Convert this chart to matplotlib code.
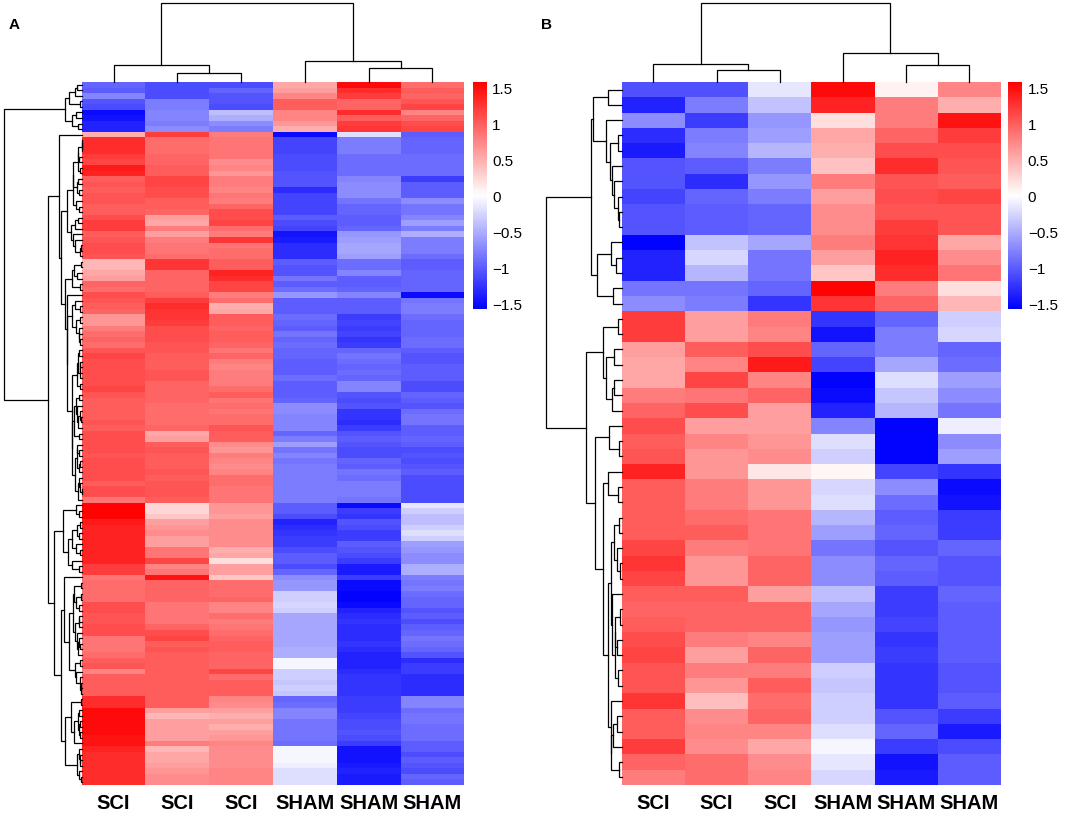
import numpy as np
import matplotlib
matplotlib.use("Agg")
import matplotlib.pyplot as plt
from matplotlib.colors import LinearSegmentedColormap, Normalize
from matplotlib.colorbar import ColorbarBase

plt.rcParams['font.family'] = ['Liberation Sans', 'DejaVu Sans']

samples = ["SCI", "SCI", "SCI", "SHAM", "SHAM", "SHAM"]

# panel A: 127 genes, scaled expression (row z-score), rows as shown
a_sci1 = [-0.95, -1.0, -0.75, -1.05, -1.1, -1.5, -1.45, -1.35, -1.35,
          0.5, 1.3, 1.3, 1.3, 1.2, 1.15, 1.4, 1.35, 1.0, 1.05, 1.0, 1.05,
          1.05, 1.0, 1.0, 1.1, 1.2, 1.2, 1.0, 1.05, 1.1, 1.1, 1.05,
          0.45, 0.45, 0.55, 0.6, 0.95, 0.9, 1.1, 1.05, 1.0, 0.95,
          0.65, 0.65, 0.8, 0.9, 0.95, 0.9, 1.05, 1.15, 1.1, 1.1, 1.1, 1.1,
          1.1, 1.15, 1.05, 1.0, 1.0, 1.0, 1.0, 1.05, 1.0, 1.1, 1.1,
          1.1, 1.1, 1.05, 1.1, 1.1, 1.1, 1.1, 1.0, 1.1, 1.1, 0.85,
          1.55, 1.55, 1.55, 1.4, 1.35, 1.35, 1.35, 1.35, 1.35, 1.35, 1.35, 1.2,
          1.2, 0.85, 0.9, 0.9, 0.9, 0.9, 1.1, 1.1, 1.05, 1.05, 1.1,
          1.1, 0.85, 0.85, 0.85, 0.9, 1.0, 1.05, 0.75, 1.0, 1.0, 1.0, 1.0,
          1.3, 1.3, 1.5, 1.5, 1.5, 1.5, 1.5, 1.45, 1.45, 1.35, 1.3,
          1.3, 1.3, 1.3, 1.3, 1.3]
a_sci2 = [-1.1, -1.1, -1.1, -0.8, -0.8, -0.75, -0.75, -0.8, -0.7,
          1.2, 0.9, 0.9, 0.9, 0.95, 0.95, 1.0, 1.0, 1.15, 1.15, 1.1, 1.1,
          1.0, 1.0, 0.95, 0.6, 0.55, 0.8, 0.6, 0.8, 0.85, 0.85, 0.9,
          1.25, 1.25, 0.95, 0.95, 0.95, 0.95, 1.0, 1.2, 1.3, 1.25,
          1.25, 1.2, 1.1, 1.1, 1.1, 1.05, 1.05, 1.0, 1.0, 1.0, 1.05, 1.05,
          0.95, 0.95, 0.95, 0.95, 0.9, 0.9, 0.9, 0.9, 0.95, 0.55, 0.6,
          1.0, 1.05, 1.0, 1.0, 1.0, 1.05, 1.0, 1.05, 1.05, 1.05, 1.0,
          0.25, 0.25, 0.35, 0.6, 0.65, 0.7, 0.6, 0.6, 0.85, 0.85, 1.15, 0.75,
          0.85, 1.45, 0.95, 0.95, 0.95, 0.95, 0.85, 0.85, 0.85, 0.85, 0.95,
          1.1, 1.15, 1.0, 1.05, 1.0, 1.0, 1.0, 1.0, 1.0, 1.0, 1.0, 1.0,
          1.0, 1.0, 0.6, 0.45, 0.6, 0.6, 0.6, 0.6, 0.8, 0.45, 0.55,
          0.55, 0.6, 0.65, 0.7, 0.7]
a_sci3 = [-1.1, -0.95, -1.05, -1.05, -1.1, -0.4, -0.5, -0.7, -0.8,
          0.8, 0.85, 0.85, 0.85, 0.85, 0.7, 0.75, 0.65, 0.8, 0.8, 0.75, 0.85,
          0.8, 0.95, 1.1, 1.1, 1.15, 0.9, 0.8, 1.25, 0.85, 0.9, 0.9,
          1.0, 1.0, 1.35, 1.3, 1.15, 1.15, 0.8, 0.9, 0.5, 0.55,
          1.0, 1.0, 0.95, 1.0, 1.0, 0.95, 0.85, 0.95, 0.8, 0.75, 0.8, 0.8,
          0.8, 0.9, 1.0, 0.85, 0.9, 0.85, 0.9, 0.9, 1.05, 1.0, 1.0,
          0.7, 0.65, 0.8, 0.75, 0.7, 0.75, 0.9, 0.9, 0.85, 0.85, 0.85,
          0.65, 0.65, 0.6, 0.7, 0.7, 0.7, 0.7, 0.7, 0.5, 0.55, 0.2, 0.6,
          0.6, 0.35, 0.9, 0.9, 0.9, 0.95, 0.75, 0.75, 0.9, 0.8, 0.85,
          0.9, 0.95, 1.0, 1.0, 0.95, 0.95, 0.95, 1.15, 0.9, 1.0, 1.0, 1.0,
          0.75, 0.7, 0.6, 0.5, 0.6, 0.5, 0.6, 0.65, 0.75, 0.7, 0.7,
          0.7, 0.7, 0.75, 0.75, 0.75]
a_sham1 = [0.55, 0.6, 0.75, 1.0, 1.0, 0.75, 0.75, 0.65, 0.5,
           -1.5, -1.15, -1.15, -1.15, -1.1, -1.1, -1.1, -1.05, -1.05, -1.05, -1.3, -1.15,
           -1.15, -1.15, -1.15, -1.0, -1.1, -1.15, -1.45, -1.4, -1.3, -1.3, -1.3,
           -1.0, -1.05, -1.05, -0.85, -1.0, -0.9, -0.65, -1.0, -1.0, -1.0,
           -0.9, -0.95, -1.0, -0.85, -0.95, -0.9, -0.95, -0.95, -1.0, -1.0, -1.0, -0.9,
           -1.0, -1.0, -1.0, -0.95, -0.7, -0.7, -0.75, -0.75, -0.75, -0.95, -0.8,
           -0.6, -0.85, -0.75, -0.85, -0.8, -0.8, -0.8, -0.8, -0.8, -0.8, -0.8,
           -1.0, -1.0, -1.1, -1.35, -1.3, -1.25, -1.2, -1.2, -1.1, -1.0, -1.0, -1.1,
           -0.95, -0.7, -0.65, -0.65, -0.3, -0.3, -0.25, -0.3, -0.55, -0.55, -0.55,
           -0.55, -0.55, -0.55, -0.5, -0.5, -0.05, -0.05, -0.3, -0.3, -0.35, -0.3, -0.35,
           -0.95, -0.9, -0.75, -0.75, -0.85, -0.85, -0.85, -0.85, -0.9, -0.05, -0.05,
           -0.05, -0.1, -0.2, -0.2, -0.2]
a_sham2 = [1.5, 1.3, 1.2, 0.95, 0.95, 1.3, 1.0, 1.2, 1.25,
           -0.2, -0.8, -0.8, -0.8, -0.9, -0.9, -0.9, -0.9, -0.75, -0.7, -0.7, -0.7,
           -0.85, -0.95, -0.95, -1.0, -1.0, -0.95, -0.65, -0.6, -0.55, -0.55, -0.6,
           -0.9, -0.9, -0.75, -1.0, -1.0, -0.95, -0.75, -1.0, -1.0, -1.0,
           -1.2, -1.15, -1.2, -1.15, -1.25, -1.2, -0.95, -0.85, -0.9, -0.95, -0.9, -0.95,
           -0.75, -0.75, -1.05, -1.1, -1.05, -1.25, -1.25, -1.3, -1.2, -1.05, -1.0,
           -1.05, -1.1, -1.1, -0.95, -1.0, -0.85, -0.9, -0.8, -0.8, -0.8, -0.85,
           -1.5, -1.2, -1.25, -1.05, -1.1, -1.2, -1.2, -1.0, -1.05, -1.1, -1.2, -1.4,
           -1.4, -1.2, -1.5, -1.5, -1.55, -1.55, -1.5, -1.35, -1.3, -1.25, -1.3,
           -1.3, -1.3, -1.25, -1.3, -1.35, -1.35, -1.35, -1.3, -1.25, -1.25, -1.25, -1.25,
           -1.2, -1.2, -1.2, -1.15, -1.1, -1.1, -1.05, -1.1, -1.2, -1.45, -1.45,
           -1.45, -1.4, -1.35, -1.4, -1.4]
a_sham3 = [0.9, 1.0, 0.95, 1.05, 1.15, 0.75, 0.95, 1.1, 1.15,
           -1.0, -0.95, -0.95, -0.95, -0.9, -0.9, -0.9, -0.9, -1.2, -1.0, -1.0, -1.0,
           -0.7, -0.85, -0.85, -0.75, -0.6, -0.8, -0.5, -0.8, -0.8, -0.8, -0.9,
           -1.0, -1.0, -0.95, -0.95, -0.95, -0.95, -1.5, -0.85, -0.8, -0.8,
           -0.9, -0.95, -0.95, -0.95, -0.9, -0.9, -1.0, -1.05, -1.05, -1.0, -1.0, -1.0,
           -1.1, -1.1, -0.95, -1.0, -1.05, -0.9, -0.85, -0.85, -1.0, -1.0, -0.95,
           -1.0, -1.1, -1.05, -1.1, -1.05, -1.0, -1.1, -1.1, -1.1, -1.1, -1.1,
           -0.15, -0.3, -0.4, -0.4, -0.3, -0.2, -0.3, -0.6, -0.65, -0.7, -0.7, -0.5,
           -0.5, -0.8, -0.85, -0.8, -0.9, -0.95, -0.95, -1.05, -1.0, -1.1, -1.0,
           -0.95, -0.85, -0.9, -0.95, -1.05, -1.3, -1.2, -1.2, -1.3, -1.3, -1.3, -1.3,
           -0.75, -0.75, -0.9, -0.85, -0.85, -0.9, -0.9, -0.9, -1.0, -1.0, -1.1,
           -1.0, -1.05, -1.1, -0.95, -1.0]

# panel B: 46 genes
b_sci1 = [-1.07, -1.35, -0.7, -1.3, -1.4, -1.05, -1.05, -1.15, -1.05, -1.05,
          -1.55, -1.35, -1.35, -0.85, -0.7,
          1.2, 1.2, 0.6, 0.55, 0.55, 0.8, 0.95, 1.1, 1.0, 1.05, 1.35, 1.0,
          1.0, 1.0, 1.0, 1.15, 1.25, 1.15, 1.0,
          0.95, 1.0, 1.1, 1.15, 1.05, 1.05, 1.25, 1.0, 1.0, 1.2, 0.95, 0.8]
b_sci2 = [-1.07, -0.8, -1.2, -0.8, -0.75, -1.0, -1.3, -0.95, -1.0, -1.0,
          -0.38, -0.25, -0.45, -0.85, -0.8,
          0.6, 0.6, 1.0, 0.75, 1.15, 0.85, 1.1, 0.6, 0.75, 0.65, 0.65, 0.8,
          0.8, 0.9, 1.0, 0.8, 0.65, 0.65, 1.0,
          0.95, 0.95, 0.8, 0.6, 0.8, 0.65, 0.4, 0.7, 0.75, 0.7, 0.9, 0.9]
b_sci3 = [-0.15, -0.38, -0.65, -0.6, -0.45, -0.8, -0.65, -0.8, -0.95, -0.95,
          -0.55, -0.85, -0.85, -0.95, -1.25,
          0.82, 0.75, 1.1, 1.4, 0.75, 0.95, 0.6, 0.6, 0.65, 0.7, 0.15, 0.65,
          0.65, 0.85, 0.85, 0.85, 0.95, 0.95, 0.6,
          0.95, 0.95, 0.75, 0.95, 0.8, 1.0, 0.9, 0.95, 0.75, 0.55, 0.7, 0.75]
b_sham1 = [1.5, 1.35, 0.2, 0.55, 0.5, 0.38, 0.8, 0.6, 0.7, 0.7,
           0.8, 0.6, 0.35, 1.55, 1.25,
           -1.25, -1.45, -0.95, -1.15, -1.55, -1.5, -1.35, -0.75, -0.2, -0.3, 0.05, -0.25,
           -0.2, -0.45, -0.6, -0.85, -0.7, -0.7, -0.4,
           -0.55, -0.65, -0.6, -0.6, -0.3, -0.35, -0.3, -0.3, -0.2, -0.05, -0.15, -0.25]
b_sham2 = [0.08, 0.8, 0.8, 0.95, 1.1, 1.3, 1.05, 1.1, 1.05, 1.2,
           1.25, 1.35, 1.3, 0.8, 0.95,
           -0.95, -0.8, -0.8, -0.55, -0.2, -0.35, -0.45, -1.55, -1.55, -1.55, -1.15, -0.7,
           -0.9, -1.0, -0.95, -1.05, -0.95, -1.0, -1.2,
           -1.2, -1.15, -1.25, -1.2, -1.25, -1.25, -1.25, -1.05, -0.95, -1.2, -1.45, -1.4]
b_sham3 = [0.75, 0.5, 1.45, 1.2, 1.1, 1.05, 1.0, 1.15, 1.05, 1.05,
           0.55, 0.7, 0.85, 0.2, 0.45,
           -0.3, -0.25, -0.95, -0.9, -0.6, -0.7, -0.85, -0.1, -0.7, -0.6, -1.25, -1.5,
           -1.45, -1.2, -1.2, -0.95, -1.05, -1.05, -0.95,
           -1.0, -1.0, -1.0, -1.0, -1.05, -1.05, -1.0, -1.2, -1.4, -1.1, -1.0, -1.0]

cmap = LinearSegmentedColormap.from_list("bwr_ph", ["#0000FF", "#FFFFFF", "#FF0000"])
norm = Normalize(vmin=-1.57, vmax=1.57)
W, H = 1084, 820


def box(x0, y0, x1, y1):
    # pixel box -> figure fraction
    return [x0 / W, 1 - y1 / H, (x1 - x0) / W, (y1 - y0) / H]


def adjacent_linkage(X):
    # complete linkage, euclidean, only neighbours may merge (keeps the display order)
    D = np.sqrt(((X[:, None, :] - X[None, :, :]) ** 2).sum(-1))
    clusters = [([i], i + 0.5, 0.0) for i in range(len(X))]
    segs = []
    while len(clusters) > 1:
        best_d, best_j = None, 0
        for j in range(len(clusters) - 1):
            d = D[np.ix_(clusters[j][0], clusters[j + 1][0])].max()
            if best_d is None or d < best_d:
                best_d, best_j = d, j
        a, b = clusters[best_j], clusters[best_j + 1]
        h = max(best_d, a[2], b[2])
        segs.append((a[1], a[2], b[1], b[2], h))
        clusters[best_j:best_j + 2] = [(a[0] + b[0], (a[1] + b[1]) / 2, h)]
    return segs, clusters[0][2]


def panel(fig, cols, hx0, hx1, rx0, cbx0, letter, lx):
    data = np.column_stack(cols)
    n = data.shape[0]
    y0, y1 = 83, 786

    ax = fig.add_axes(box(hx0, y0, hx1, y1))
    ax.pcolormesh(np.arange(7), np.arange(n + 1), data, cmap=cmap, norm=norm)
    ax.set_xlim(0, 6)
    ax.set_ylim(n, 0)
    for s in ax.spines.values():
        s.set_visible(False)
    ax.set_yticks([])
    ax.set_xticks(np.arange(6) + 0.5)
    ax.set_xticklabels(samples, fontsize=14.5, fontweight="bold")
    ax.tick_params(axis="x", length=0, pad=6)

    # row dendrogram
    segs, top = adjacent_linkage(data)
    axr = fig.add_axes(box(rx0, y0, hx0, y1))
    for pa, ha, pb, hb, h in segs:
        axr.plot([ha, h, h, hb], [pa, pa, pb, pb], color="black", lw=0.9,
                 solid_joinstyle="miter", clip_on=False)
    axr.set_xlim(top, 0)
    axr.set_ylim(n, 0)
    axr.axis("off")

    # column dendrogram
    segs, top = adjacent_linkage(data.T)
    axc = fig.add_axes(box(hx0, 4, hx1, y0))
    for pa, ha, pb, hb, h in segs:
        axc.plot([pa, pa, pb, pb], [ha, h, h, hb], color="black", lw=0.9,
                 solid_joinstyle="miter", clip_on=False)
    axc.set_xlim(0, 6)
    axc.set_ylim(0, top)
    axc.axis("off")

    # colour key
    cax = fig.add_axes(box(cbx0, 83, cbx0 + 14, 310))
    cb = ColorbarBase(cax, cmap=cmap, norm=norm, orientation="vertical")
    cb.outline.set_visible(False)
    ticks = [1.5, 1, 0.5, 0, -0.5, -1, -1.5]
    cb.set_ticks(ticks)
    cb.set_ticklabels([f"{t:g}".replace("-", "\u2212") for t in ticks])
    cax.tick_params(length=0, labelsize=11, pad=4)

    fig.text(lx / W, 1 - 25 / H, letter, fontsize=11, fontweight="bold",
             ha="center", va="center")


fig = plt.figure(figsize=(W / 100, H / 100), dpi=100)
panel(fig, [a_sci1, a_sci2, a_sci3, a_sham1, a_sham2, a_sham3],
      81.7, 464.3, 4, 472.5, "A", 14)
panel(fig, [b_sci1, b_sci2, b_sci3, b_sham1, b_sham2, b_sham3],
      621.7, 1001, 546, 1008.3, "B", 547)
fig.savefig("out.png", dpi=100)
